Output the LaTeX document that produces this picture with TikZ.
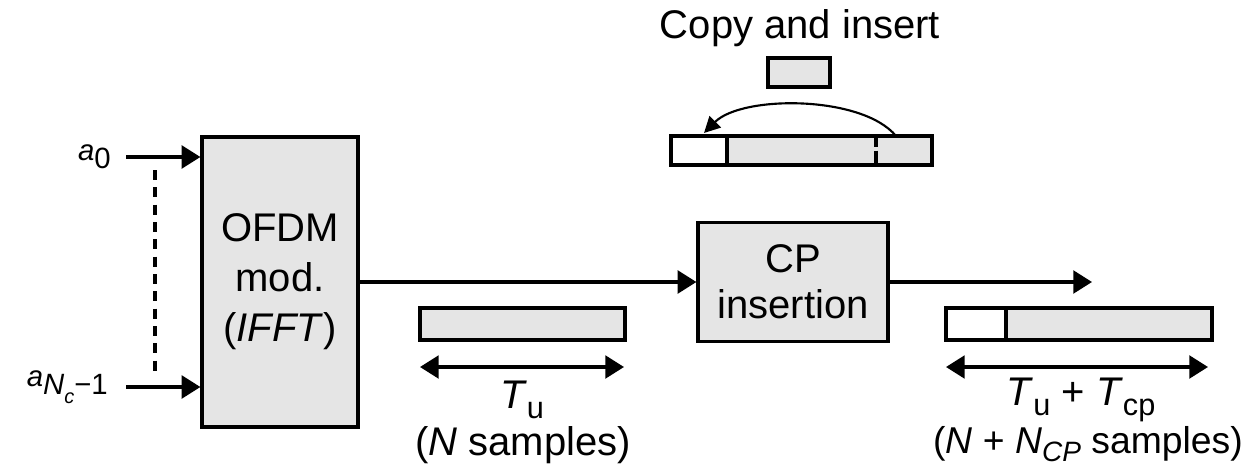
\documentclass[tikz,border=0pt]{standalone}
\usepackage{fontspec}
\setmainfont{Liberation Sans}
\usetikzlibrary{arrows.meta}
\definecolor{boxgray}{gray}{0.9}
\newcommand\lowsub[1]{\raisebox{-0.28em}{#1}}
\newcommand\tsub[1]{\raisebox{-0.25em}{\fontsize{23}{27}\selectfont #1}}
\tikzset{
  lw/.style={line width=2.4pt},
  blk/.style={draw=black, fill=boxgray, line width=2.4pt, inner sep=0pt},
  wblk/.style={draw=black, fill=white, line width=2.4pt, inner sep=0pt},
  arr/.style={line width=2.4pt, -{Triangle[length=14pt,width=17pt]}},
  darr/.style={line width=2.4pt, {Triangle[length=14pt,width=17pt]}-{Triangle[length=14pt,width=17pt]}},
  lbl/.style={font=\fontsize{30}{36}\selectfont, inner sep=0pt},
  inlbl/.style={font=\fontsize{22}{26}\selectfont, inner sep=0pt, anchor=east},
}
\begin{document}
\begin{tikzpicture}[x=0.75pt,y=-0.75pt]
\useasboundingbox (0,0) rectangle (1249,468);

% inputs
\node[inlbl] (a0) at (111,157) {\textit{a}\lowsub{0}};
\node[inlbl] (aN) at (108,387) {\textit{a}\lowsub{\textit{N}\lowsub{\fontsize{15}{18}\selectfont\textit{c}}−1}};
\coordinate (in0) at (126,157);
\coordinate (inN) at (126,387);

% OFDM block
\node[blk, minimum width=117pt, minimum height=217.5pt, font=\fontsize{30}{37.5}\selectfont, align=center] (ofdm) at (280,282) {OFDM\\mod.\\(\textit{IFFT})};
\draw[arr] (in0) -- (in0 -| ofdm.west);
\draw[arr] (inN) -- (inN -| ofdm.west);
\draw[lw, dash pattern=on 7.5pt off 5.5pt] (155,170) -- (155,377);

% CP insertion block
\node[blk, minimum width=142.5pt, minimum height=89.25pt, font=\fontsize{30}{34.5}\selectfont, align=center] (cp) at (793,282) {CP\\insertion};
\draw[arr] (ofdm.east) -- (cp.west);
\coordinate (out) at (1092,282);
\draw[arr] (cp.east) -- (out);

% copy and insert
\node[lbl] (copy) at (800,28) {Copy and insert};
\node[blk, minimum width=46.5pt, minimum height=21.75pt] (seg) at (799,72.5) {};
\node[blk, minimum width=195.75pt, minimum height=21.75pt] (frame) at (801.5,150.5) {};
\node[wblk, minimum width=42pt, minimum height=21.75pt] (slot) at (699,150.5) {};
\draw[lw, dash pattern=on 8.5pt off 2.5pt on 20pt off 0pt] (876,136) -- (876,165);
\coordinate (arcS) at (896,136);
\coordinate (arcE) at (704,133);
\draw[line width=1.6pt, -{Triangle[length=12pt,width=12pt]}] (arcS) .. controls (862,95) and (742,95) .. (arcE);

% N samples
\node[blk, minimum width=153.75pt, minimum height=24pt] (nblk) at (522.5,324) {};
\coordinate (d1a) at (420,367);
\coordinate (d1b) at (624,367);
\draw[darr] (d1a) -- (d1b);
\node[lbl] (tu) at (522,400) {\textit{T}\tsub{u}};
\node[lbl] (ns) at (523,445) {(\textit{N} samples)};

% N + NCP samples
\node[blk, minimum width=199.5pt, minimum height=24pt] (cpblk) at (1079,324) {};
\node[wblk, minimum width=45pt, minimum height=24pt] (cpslot) at (976,324) {};
\coordinate (d2a) at (946,367);
\coordinate (d2b) at (1208,367);
\draw[darr] (d2a) -- (d2b);
\node[lbl] (tucp) at (1081,400) {\textit{T}\tsub{u} + \textit{T}\tsub{cp}};
\node[lbl, font=\fontsize{28}{33}\selectfont] (ncp) at (1088,444) {(\textit{N} + \textit{N}\raisebox{-0.2em}{\fontsize{21}{25}\selectfont\textit{CP}} samples)};
\end{tikzpicture}
\end{document}
